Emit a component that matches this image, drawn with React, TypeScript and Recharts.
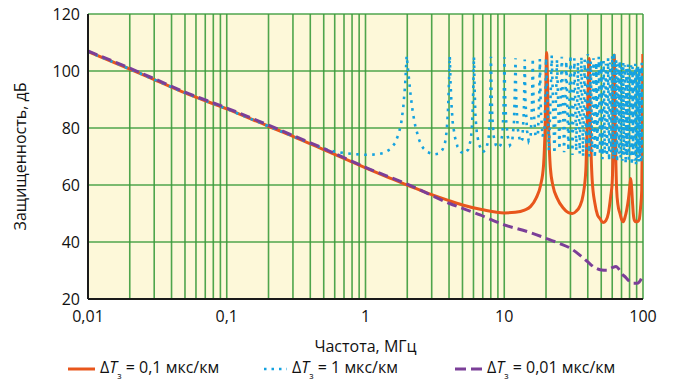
import React from "react";
import { LineChart, Line, XAxis, YAxis, CartesianGrid, Legend } from "recharts";

const FONT = "'Open Sans', 'Noto Sans', sans-serif";

// grid positions on the log axis (1..9 per decade)
const xGridTicks = [
  0.01, 0.02, 0.03, 0.04, 0.05, 0.06, 0.07, 0.08, 0.09,
  0.1, 0.2, 0.3, 0.4, 0.5, 0.6, 0.7, 0.8, 0.9,
  1, 2, 3, 4, 5, 6, 7, 8, 9,
  10, 20, 30, 40, 50, 60, 70, 80, 90,
  100,
];
const xLabels: Record<string, string> = {
  "0.01": "0,01",
  "0.1": "0,1",
  "1": "1",
  "10": "10",
  "100": "100",
};
const yTicks = [20, 40, 60, 80, 100, 120];

// ΔTз = 0,1 мкс/км  [f MHz, dB]
const orangePts: [number, number][] = [
  [0.01, 106.8], [0.02, 100.7], [0.03, 97], [0.05, 92.3], [0.1, 86.7],
  [0.2, 80.6], [0.3, 77.1], [0.5, 72.4], [1, 66], [1.5, 62.4], [2, 60],
  [3, 56.6], [4, 54.5], [5, 53], [7, 51.3], [10, 50.2], [12, 50.4],
  [14, 51.2], [15.5, 52.5], [17, 55.5], [18.3, 60], [19.2, 67], [19.7, 80],
  [20.2, 106.5], [20.8, 82], [21.5, 66], [22.5, 59.5], [24, 55.5],
  [26.5, 52], [29, 50.3], [31, 50], [33, 50.8], [35, 52.5], [37, 56.5],
  [38.7, 65], [39.8, 85], [41, 104.4], [41.8, 80], [43, 62], [45, 53.6],
  [47, 49.5], [49, 48.2], [51.5, 46.8], [54, 47.5], [56.3, 50.1],
  [58.5, 56], [60, 61], [61.2, 80], [62.1, 105.6], [63.2, 78], [64.6, 58.2],
  [66, 53], [68.2, 50], [70, 48], [72.1, 47.1], [74, 48.5], [76.3, 51.2],
  [78.5, 55], [80.5, 60], [81.5, 62.3], [82.5, 60], [84, 54], [85.1, 50],
  [87, 47.5], [89, 47.1], [91.5, 47.2], [94, 48], [96, 52], [97.9, 58],
  [99, 80], [99.7, 106],
];

// ΔTз = 1 мкс/км
const bluePts: [number, number][] = [
  [0.01, 106.8], [0.02, 100.7], [0.03, 97], [0.05, 92.3], [0.1, 86.7],
  [0.2, 80.6], [0.3, 77.1], [0.4, 74.6], [0.5, 72.8], [0.6, 71.7],
  [0.7, 71.2], [0.85, 70.8], [1, 70.6], [1.2, 70.7], [1.35, 71.2],
  [1.5, 72.5], [1.63, 74.6], [1.72, 77.5], [1.8, 81], [1.87, 87],
  [1.93, 95], [1.98, 105.3], [2.04, 99], [2.12, 91], [2.2, 85], [2.3, 80],
  [2.45, 75.5], [2.6, 73], [2.8, 71.5], [3.1, 70.7], [3.4, 71], [3.6, 72.5],
  [3.75, 75], [3.85, 79], [3.93, 86], [3.99, 95], [4.05, 105.2], [4.1, 96],
  [4.17, 88], [4.25, 82], [4.4, 77], [4.6, 73.5], [4.9, 71.5], [5.2, 71],
  [5.5, 72.5], [5.75, 76], [5.88, 82], [5.97, 92], [6.05, 105], [6.12, 93],
  [6.2, 84], [6.35, 78], [6.6, 74], [7, 71.5], [7.4, 72.5], [7.7, 76],
  [7.88, 83], [7.96, 93], [8.02, 105], [8.1, 92], [8.2, 84], [8.4, 77],
  [8.7, 74], [9, 73], [9.4, 74], [9.7, 78], [9.88, 86], [9.97, 96],
  [10.03, 104.8], [10.12, 93], [10.3, 83], [10.6, 77], [11, 74], [11.4, 75],
  [11.75, 82], [11.95, 95], [12.05, 104.5], [12.2, 90], [12.5, 80], [13, 75],
  [13.5, 76], [13.85, 86], [14.05, 104], [14.2, 90], [14.6, 79], [15, 75.5],
  [15.5, 77], [15.85, 88], [16.05, 104.5], [16.3, 86], [16.8, 77],
  [17.5, 78], [17.9, 92], [18.05, 104.2], [18.35, 86], [18.9, 77],
  [19.5, 80], [19.9, 95],
  [20, 104.5], [21, 72], [22, 105.5], [23, 71], [24, 104], [25, 72.5],
  [26, 105], [27, 71.5], [28, 103.5], [29, 72], [30, 105.5], [31, 70.5],
  [32, 104.5], [33, 72], [34, 103], [35, 71], [36, 105], [37, 70],
  [38, 104], [39, 72.5], [40, 106], [41, 70], [42, 103.5], [43, 71.5],
  [44, 104.5], [45, 69.5], [46, 103], [47, 72], [48, 105], [49, 70.5],
  [50, 104], [51, 69], [52, 103.5], [53, 71], [54, 102.5], [55, 70],
  [56, 104.5], [57, 68.5], [58, 103], [59, 71.5], [60, 105.5], [61, 69],
  [62, 106.5], [63, 70], [64, 104], [65, 68], [66, 102.5], [67, 71],
  [68, 103.5], [69, 69.5], [70, 101.5], [71, 68.5], [72, 103], [73, 70.5],
  [74, 102], [75, 67.5], [76, 101.5], [77, 70], [78, 102.5], [79, 68],
  [80, 101], [81, 69.5], [82, 102], [83, 67], [84, 101.5], [85, 70.5],
  [86, 100.5], [87, 68.5], [88, 102.5], [89, 67], [90, 101], [91, 69.5],
  [92, 102], [93, 68], [94, 100.5], [95, 70], [96, 101.5], [97, 67.5],
  [98, 103], [99, 69.5], [100, 102],
];

// ΔTз = 0,01 мкс/км
const purplePts: [number, number][] = [
  [0.01, 107], [0.02, 101], [0.03, 97.3], [0.05, 92.6], [0.1, 87],
  [0.2, 81], [0.3, 77.4], [0.5, 72.8], [1, 66.2], [2, 60.3], [4, 53.6],
  [6.7, 49.5], [10, 46], [15, 43.5], [20, 41.3], [25, 39.5], [30, 37.8],
  [35, 35.4], [40, 33], [45, 31], [50, 30.2], [55, 30.1], [60, 31],
  [64, 31.4], [67, 30.5], [70, 29], [75, 27.6], [80, 26.2], [85, 25.5],
  [90, 25.5], [94, 26], [97.9, 27.5], [100, 28.8],
];

const toRows = (pts: [number, number][]) => pts.map(([f, db]) => ({ f, db }));

const ORANGE = "#e8561c";
const BLUE = "#14a2e0";
const PURPLE = "#7b3f98";

function Sub() {
  return (
    <span>
      Δ<i>T</i>
      <sub style={{ fontSize: 9, verticalAlign: -6 }}>з</sub>
    </span>
  );
}

function LegendBox() {
  const item = (left: number, sample: React.ReactNode, text: string) => (
    <div
      style={{
        position: "absolute",
        left,
        top: 0,
        height: 24,
        display: "flex",
        alignItems: "center",
        whiteSpace: "nowrap",
      }}
    >
      {sample}
      <span style={{ marginLeft: 5 }}>
        <Sub /> {text}
      </span>
    </div>
  );
  return (
    <div
      style={{
        position: "relative",
        width: 673,
        height: 24,
        fontFamily: FONT,
        fontSize: 16,
        color: "#111",
      }}
    >
      {item(
        68,
        <svg width={27} height={6}>
          <line x1={0} y1={3} x2={27} y2={3} stroke={ORANGE} strokeWidth={3} />
        </svg>,
        "= 0,1 мкс/км"
      )}
      {item(
        263,
        <svg width={24} height={6}>
          <line x1={1} y1={3} x2={24} y2={3} stroke={BLUE} strokeWidth={2.5} strokeDasharray="2.5 5" />
        </svg>,
        "= 1 мкс/км"
      )}
      {item(
        455,
        <svg width={27} height={6}>
          <line x1={0} y1={3} x2={27} y2={3} stroke={PURPLE} strokeWidth={3} strokeDasharray="11 5" />
        </svg>,
        "= 0,01 мкс/км"
      )}
    </div>
  );
}

export default function App() {
  const tickStyle = { fontSize: 16, fill: "#111", fontFamily: FONT };
  return (
    <div style={{ position: "absolute", left: 0, top: 0, background: "#fff" }}>
      <LineChart
        width={673}
        height={381}
        margin={{ top: 14, right: 30, left: 0, bottom: 0 }}
      >
        <CartesianGrid
          fill="#fdf8d9"
          stroke="#3c9b3c"
          strokeWidth={1.6}
          strokeOpacity={0.9}
        />
        <XAxis
          dataKey="f"
          type="number"
          scale="log"
          domain={[0.01, 100]}
          allowDataOverflow
          ticks={xGridTicks}
          interval={0}
          tickFormatter={(v: number) => xLabels[String(v)] ?? ""}
          tick={tickStyle}
          tickLine={false}
          tickMargin={6}
          axisLine={{ stroke: "#1a1a1a", strokeWidth: 2 }}
          height={58}
          label={{
            value: "Частота, МГц",
            position: "insideBottom",
            offset: 5,
            style: { fontSize: 16, fill: "#111", fontFamily: FONT },
          }}
        />
        <XAxis
          xAxisId="top"
          orientation="top"
          type="number"
          scale="log"
          domain={[0.01, 100]}
          allowDataOverflow
          tick={false}
          tickLine={false}
          height={0}
          axisLine={{ stroke: "#1a1a1a", strokeWidth: 2 }}
        />
        <YAxis
          type="number"
          domain={[20, 120]}
          ticks={yTicks}
          interval={0}
          tick={tickStyle}
          tickLine={false}
          axisLine={{ stroke: "#1a1a1a", strokeWidth: 2 }}
          width={88}
          label={{
            value: "Защищенность, дБ",
            angle: -90,
            position: "insideLeft",
            offset: 20,
            style: { fontSize: 16, fill: "#111", fontFamily: FONT, textAnchor: "middle" },
          }}
        />
        <YAxis
          yAxisId="right"
          orientation="right"
          type="number"
          domain={[20, 120]}
          tick={false}
          tickLine={false}
          width={0}
          axisLine={{ stroke: "#333", strokeWidth: 2 }}
        />
        <Legend verticalAlign="bottom" wrapperStyle={{ left: 0, width: 673 }} content={() => <LegendBox />} />
        <Line
          data={toRows(orangePts)}
          dataKey="db"
          type="monotone"
          stroke={ORANGE}
          strokeWidth={3}
          dot={false}
          activeDot={false}
          isAnimationActive={false}
        />
        <Line
          data={toRows(bluePts)}
          dataKey="db"
          type="linear"
          stroke={BLUE}
          strokeWidth={2.6}
          strokeDasharray="2.6 5.4"
          dot={false}
          activeDot={false}
          isAnimationActive={false}
        />
        <Line
          data={toRows(purplePts)}
          dataKey="db"
          type="monotone"
          stroke={PURPLE}
          strokeWidth={3}
          strokeDasharray="10 5"
          dot={false}
          activeDot={false}
          isAnimationActive={false}
        />
      </LineChart>
    </div>
  );
}
